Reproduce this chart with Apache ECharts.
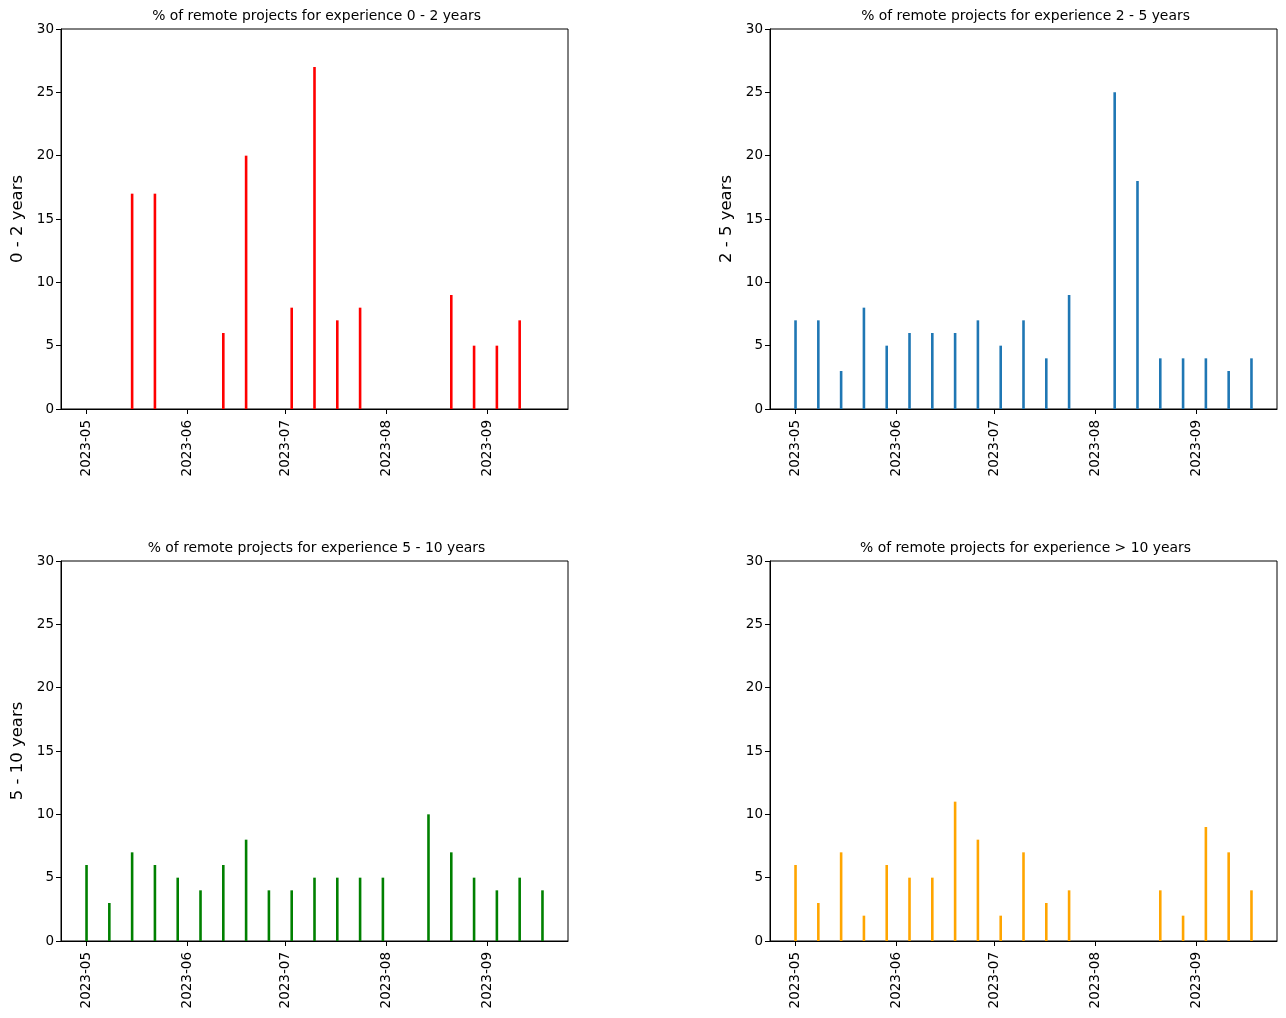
<!DOCTYPE html>
<html>
<head>
<meta charset="utf-8">
<script src="https://cdn.jsdelivr.net/npm/echarts@6/dist/echarts.min.js"></script>
<style>html,body{margin:0;padding:0;background:#fff;}#c{width:1286px;height:1018px;}</style>
</head>
<body>
<div id="c"></div>
<script>
const weeks = ['2023-05-01','2023-05-08','2023-05-15','2023-05-22','2023-05-29','2023-06-05','2023-06-12','2023-06-19','2023-06-26','2023-07-03','2023-07-10','2023-07-17','2023-07-24','2023-07-31','2023-08-07','2023-08-14','2023-08-21','2023-08-28','2023-09-04','2023-09-11','2023-09-18'];
const exp0to2  = [0,0,17,17,0,0,6,20,0,8,27,7,8,0,0,0,9,5,5,7,0];
const exp2to5  = [7,7,3,8,5,6,6,6,7,5,7,4,9,0,25,18,4,4,4,3,4];
const exp5to10 = [6,3,7,6,5,4,6,8,4,4,5,5,5,5,0,10,7,5,4,5,4];
const exp10plus= [6,3,7,2,6,5,5,11,8,2,7,3,4,0,0,0,4,2,9,7,4];
const panelTitles = ['% of remote projects for experience 0 - 2 years','% of remote projects for experience 2 - 5 years','% of remote projects for experience 5 - 10 years','% of remote projects for experience > 10 years'];
const yNames = ['0 - 2 years','2 - 5 years','5 - 10 years',''];
const colors = ['#ff0000','#1f77b4','#008000','#ffa500'];
const seriesValues = [exp0to2, exp2to5, exp5to10, exp10plus];
const yTicks = {min:0, max:30, interval:5};

const FONT = 'DejaVu Sans';
const lefts = [61, 770, 61, 770];
const tops = [29, 29, 561, 561];
const W = 507, H = 380;

const option = {
  animation: false,
  backgroundColor: '#fff',
  title: panelTitles.map((t,i)=>({
    text: t, left: lefts[i] + W/2 + 2, top: tops[i] - 20, textAlign: 'center', padding: 0,
    textStyle: {fontFamily: FONT, fontSize: 13.9, fontWeight: 'normal', color: '#000'}
  })),
  grid: lefts.map((l,i)=>({left: l, top: tops[i], width: W, height: H, show: true, borderColor: '#000', borderWidth: 1, backgroundColor: 'transparent', containLabel: false})),
  xAxis: lefts.map((l,i)=>({
    type: 'time', gridIndex: i,
    min: '2023-04-23 13:26', max: '2023-09-25 10:34',
    splitNumber: 5,
    axisLine: {show: true, lineStyle: {color: '#000', width: 1}},
    axisTick: {show: true, inside: false, length: 5, lineStyle: {color: '#000'}},
    splitLine: {show: false},
    axisLabel: {rotate: 90, margin: 11, fontFamily: FONT, fontSize: 13.5, color: '#000', formatter: '{yyyy}-{MM}', showMinLabel: false, showMaxLabel: false}
  })),
  yAxis: lefts.map((l,i)=>({
    type: 'value', gridIndex: i, min: yTicks.min, max: yTicks.max, interval: yTicks.interval,
    name: yNames[i], nameLocation: 'middle', nameGap: 35,
    nameTextStyle: {fontFamily: FONT, fontSize: 16.5, color: '#000'},
    axisLine: {show: true, lineStyle: {color: '#000', width: 1}},
    axisTick: {show: true, inside: false, length: 5, lineStyle: {color: '#000'}},
    splitLine: {show: false},
    axisLabel: {margin: 7, fontFamily: FONT, fontSize: 13.5, color: '#000'}
  })),
  series: seriesValues.map((vals,i)=>({
    type: 'bar', xAxisIndex: i, yAxisIndex: i,
    data: weeks.map((d,k)=>[d, vals[k]]),
    barWidth: 2.6,
    itemStyle: {color: colors[i]}
  }))
};
const chart = echarts.init(document.getElementById('c'), null, {renderer: 'canvas'});
chart.setOption(option);
</script>
</body>
</html>
